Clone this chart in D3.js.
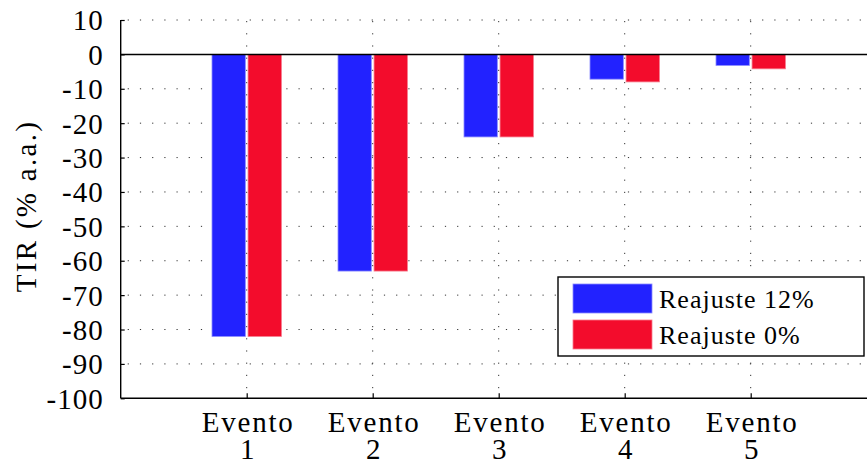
<!DOCTYPE html>
<html>
<head>
<meta charset="utf-8">
<script src="https://cdn.jsdelivr.net/npm/d3@7"></script>
<style>
  html, body { margin: 0; padding: 0; background: #fff; }
  svg text { fill: #000; }
</style>
</head>
<body>
<svg id="chart" width="867" height="463"></svg>
<script>
// Categories and series
const eventNames = ["Evento", "Evento", "Evento", "Evento", "Evento"];
const eventNumbers = ["1", "2", "3", "4", "5"];
const seriesNames = ["Reajuste 12%", "Reajuste 0%"];
const reajuste12 = [-82, -63, -24, -7.2, -3.2];
const reajuste0 = [-82, -63, -24, -8, -4.2];
const yTicks = [10, 0, -10, -20, -30, -40, -50, -60, -70, -80, -90, -100];
const yLabel = "TIR (% a.a.)";

const seriesColors = ["#2222ff", "#f30c2c"];
const seriesEdges = ["#8a8aff", "#f77a8c"];
const serif = "'Liberation Serif', 'DejaVu Serif', 'Noto Serif', Tinos, 'Times New Roman', 'Nimbus Roman', FreeSerif, Georgia, serif";

const svg = d3.select("#chart");
const W = 867;

const x = d3.scaleLinear().domain([0, 6]).range([120.7, 876.7]);
const y = d3.scaleLinear().domain([-100, 10]).range([398.3, 20]);
const sub = d3.scaleBand().domain(seriesNames).range([-34.7, 34.7]).paddingInner(0.075);

const values = [reajuste12, reajuste0];
const events = eventNumbers.map((n, i) => ({ idx: i + 1, vals: values.map(v => v[i]) }));

// Dotted grid
const grid = svg.append("g");
grid.selectAll("line.h").data(yTicks.filter(t => t !== 0 && t !== -100)).join("line")
  .attr("x1", x(0)).attr("x2", W)
  .attr("y1", d => y(d)).attr("y2", d => y(d))
  .attr("stroke", "#333").attr("stroke-width", 1)
  .attr("stroke-dasharray", "1.2,11").attr("stroke-dashoffset", -7);
grid.selectAll("line.v").data(events).join("line")
  .attr("x1", d => x(d.idx)).attr("x2", d => x(d.idx))
  .attr("y1", y(10)).attr("y2", y(-100))
  .attr("stroke", "#333").attr("stroke-width", 1)
  .attr("stroke-dasharray", "1.2,11").attr("stroke-dashoffset", -1);

// Bars
const groups = svg.append("g").selectAll("g").data(events).join("g")
  .attr("transform", d => `translate(${x(d.idx)},0)`);
groups.selectAll("rect").data(d => d.vals.map((v, k) => ({ v, k }))).join("rect")
  .attr("x", d => sub(seriesNames[d.k]))
  .attr("width", sub.bandwidth())
  .attr("y", d => y(Math.max(0, d.v)))
  .attr("height", d => Math.abs(y(d.v) - y(0)))
  .attr("fill", d => seriesColors[d.k])
  .attr("stroke", d => seriesEdges[d.k])
  .attr("stroke-width", 0.8);

// Zero reference line
svg.append("line")
  .attr("x1", x(0)).attr("x2", W)
  .attr("y1", y(0)).attr("y2", y(0))
  .attr("stroke", "#000").attr("stroke-width", 1.5);

// Y axis
const yAxis = svg.append("g").attr("transform", `translate(${x(0)},0)`)
  .call(d3.axisLeft(y).tickValues(yTicks).tickSize(-4).tickPadding(17).tickFormat(d => String(d)));
yAxis.attr("font-family", serif);
yAxis.select(".domain").attr("stroke-width", 1.4).attr("d", `M0,${y(10)}V${y(-100)}`);
yAxis.selectAll(".tick line").attr("stroke-width", 1.2);
yAxis.selectAll(".tick text")
  .style("font-family", serif).attr("font-size", 29)
  .attr("letter-spacing", "1px").attr("dy", "0.34em");

// X axis
const xAxis = svg.append("g").attr("transform", `translate(0,${y(-100)})`)
  .call(d3.axisBottom(x).tickValues(events.map(e => e.idx)).tickSize(-5).tickFormat(""));
xAxis.attr("font-family", serif);
xAxis.select(".domain").attr("stroke-width", 1.4).attr("d", `M${x(0)},0H${W}`);
xAxis.selectAll(".tick line").attr("stroke-width", 1.2);
xAxis.selectAll(".tick").each(function (d, i) {
  const g = d3.select(this);
  g.append("text").attr("x", 1).attr("y", 34)
    .attr("text-anchor", "middle").attr("font-size", 29).attr("letter-spacing", "1.8px")
    .style("font-family", serif).attr("fill", "#000").text(eventNames[i]);
  g.append("text").attr("x", 0).attr("y", 61)
    .attr("text-anchor", "middle").attr("font-size", 29)
    .style("font-family", serif).attr("fill", "#000").text(eventNumbers[i]);
});

// Y label
svg.append("text")
  .attr("transform", `translate(36,206) rotate(-90)`)
  .attr("text-anchor", "middle").attr("font-size", 29)
  .attr("letter-spacing", "2.3px").style("font-family", serif)
  .text(yLabel);

// Legend
const legend = svg.append("g");
legend.append("rect")
  .attr("x", 558).attr("y", 277).attr("width", 306).attr("height", 79)
  .attr("fill", "#fff").attr("stroke", "#000").attr("stroke-width", 1.4);
seriesNames.forEach((name, k) => {
  legend.append("rect")
    .attr("x", 573).attr("y", 284 + k * 36).attr("width", 79).attr("height", 29)
    .attr("fill", seriesColors[k]).attr("stroke", seriesEdges[k]).attr("stroke-width", 0.8);
  legend.append("text")
    .attr("x", 659).attr("y", 307.5 + k * 36)
    .attr("font-size", 26).attr("letter-spacing", "1px").style("font-family", serif)
    .text(name);
});
</script>
</body>
</html>
